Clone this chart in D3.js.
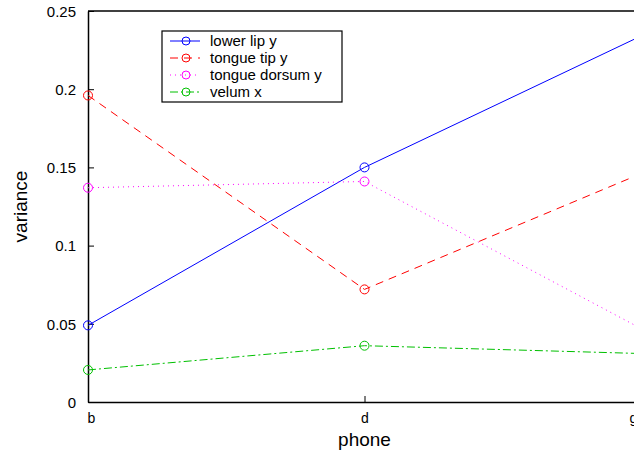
<!DOCTYPE html>
<html><head><meta charset="utf-8">
<script src="https://cdn.jsdelivr.net/npm/d3@7"></script>
<style>body{margin:0;background:#fff}svg{display:block}text{font-family:"Liberation Sans",Arial,sans-serif}</style>
</head><body>
<script>
const phones = ["b", "d", "g"];
const yTicks = [0, 0.05, 0.1, 0.15, 0.2, 0.25];
const seriesNames = ["lower lip y", "tongue tip y", "tongue dorsum y", "velum x"];
const lowerLip = [0.049, 0.150, 0.234];
const tongueTip = [0.196, 0.072, 0.146];
const tongueDorsum = [0.137, 0.141, 0.047];
const velum = [0.0205, 0.036, 0.031];
const colors = ["#0000ff", "#ff0000", "#ff00ff", "#00c000"];
const dashes = [null, "8,6", "1,4", "8,3,2,3"];

const W = 634, H = 452;
const m = {l: 88, t: 11, b: 402, r: 641};
const svg = d3.select("body").append("svg").attr("width", W).attr("height", H);
const x = d3.scalePoint().domain(phones).range([m.l, m.r]);
const y = d3.scaleLinear().domain([0, 0.25]).range([m.b, m.t]);

const series = [lowerLip, tongueTip, tongueDorsum, velum];

// axes
const yAxis = svg.append("g").attr("transform", `translate(${m.l},0)`)
  .call(d3.axisLeft(y).tickValues(yTicks).tickSizeInner(-6).tickSizeOuter(0).tickPadding(12).tickFormat(d => d === 0 ? "0" : String(d)));
yAxis.selectAll("text").attr("font-size", 15).attr("fill", "#000").attr("dy", "0.35em");
yAxis.select(".domain").attr("stroke", "#000").attr("stroke-width", 1.5);
yAxis.selectAll(".tick line").attr("stroke", "#000");

const xAxis = svg.append("g").attr("transform", `translate(0,${m.b})`)
  .call(d3.axisBottom(x).tickSizeInner(-6).tickSizeOuter(0).tickPadding(11));
xAxis.selectAll("text").attr("font-size", 14).attr("fill", "#000");
xAxis.selectAll(".tick text").filter(d => d === "b").attr("dx", 3);
xAxis.selectAll(".tick text").filter(d => d === "g").attr("dx", -8);
xAxis.select(".domain").attr("stroke", "#000").attr("stroke-width", 1.5);
xAxis.selectAll(".tick line").attr("stroke", "#000");

// top border
svg.append("line").attr("x1", m.l).attr("x2", m.r).attr("y1", m.t).attr("y2", m.t).attr("stroke", "#000").attr("stroke-width", 1.5);

// axis labels
svg.append("text").attr("x", x("d")).attr("y", 446).attr("text-anchor", "middle").attr("font-size", 19).text("phone");
svg.append("text").attr("transform", `translate(27,${(m.t + m.b) / 2}) rotate(-90)`).attr("text-anchor", "middle").attr("font-size", 19).text("variance");

// lines
const line = d3.line().x((d, i) => x(phones[i])).y(d => y(d));
series.forEach((s, k) => {
  const g = svg.append("g");
  g.append("path").attr("d", line(s)).attr("fill", "none").attr("stroke", colors[k]).attr("stroke-width", 1)
    .attr("stroke-dasharray", dashes[k]);
  g.selectAll("circle").data(s).join("circle")
    .attr("cx", (d, i) => x(phones[i])).attr("cy", d => y(d)).attr("r", 4.5)
    .attr("fill", "none").attr("stroke", colors[k]).attr("stroke-width", 1);
});

// legend
const lg = svg.append("g");
lg.append("rect").attr("x", 162).attr("y", 31).attr("width", 180).attr("height", 71)
  .attr("fill", "#fff").attr("stroke", "#000").attr("stroke-width", 1.2);
seriesNames.forEach((n, k) => {
  const yy = 41 + k * 17;
  lg.append("line").attr("x1", 170).attr("x2", 200).attr("y1", yy).attr("y2", yy)
    .attr("stroke", colors[k]).attr("stroke-dasharray", dashes[k]);
  lg.append("circle").attr("cx", 186).attr("cy", yy).attr("r", 4).attr("fill", "none").attr("stroke", colors[k]);
  lg.append("text").attr("x", 210).attr("y", yy).attr("dy", "0.35em").attr("font-size", 15).text(n);
});
</script>
</body></html>
